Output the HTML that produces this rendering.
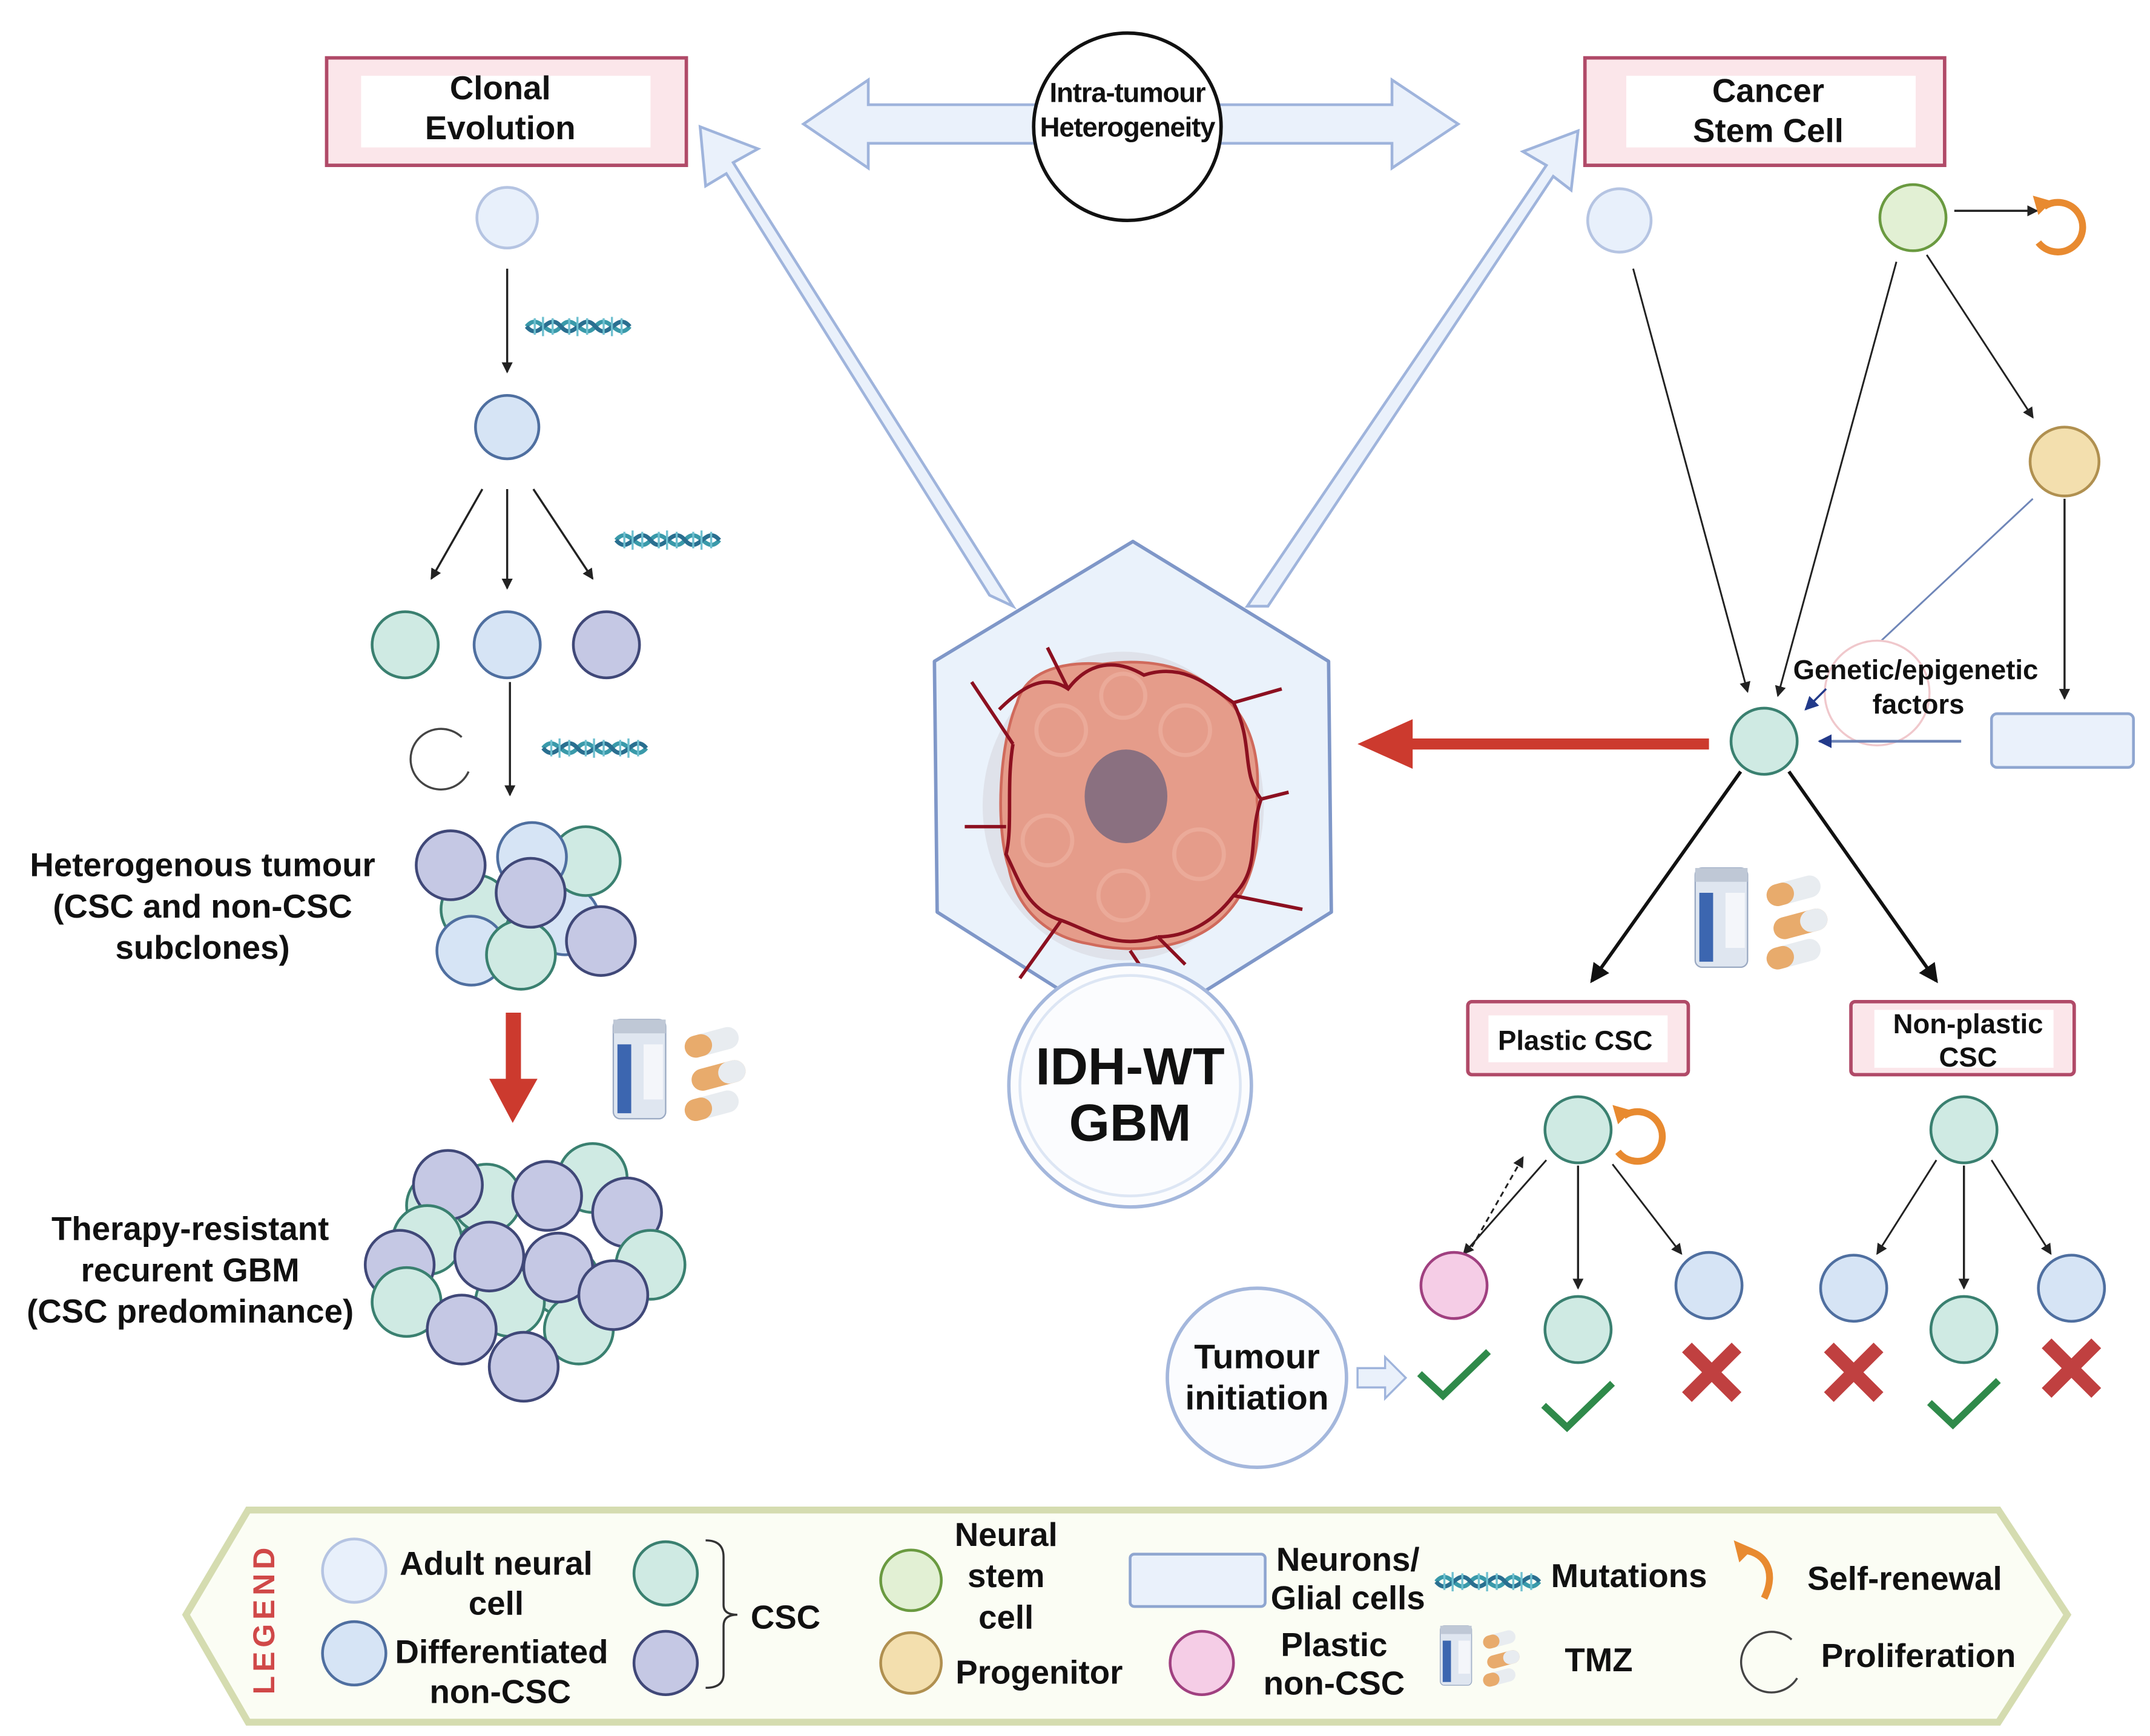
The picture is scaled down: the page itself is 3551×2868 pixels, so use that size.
<!DOCTYPE html>
<html><head><meta charset="utf-8"><style>
html,body{margin:0;padding:0;background:#fff}
svg{display:block}
text{font-family:"Liberation Sans",Arial,sans-serif;font-weight:bold;fill:#111}
</style></head><body>
<svg width="3551" height="2868" viewBox="0 0 1560 1260" preserveAspectRatio="none" xmlns="http://www.w3.org/2000/svg">
<defs>
<marker id="ah" markerWidth="8" markerHeight="8" refX="7" refY="4" orient="auto" markerUnits="userSpaceOnUse"><path d="M0,0 L8,4 L0,8 z" fill="#222"/></marker>
<marker id="ahb" markerWidth="14" markerHeight="14" refX="12" refY="7" orient="auto" markerUnits="userSpaceOnUse"><path d="M0,0 L14,7 L0,14 z" fill="#111"/></marker>
<marker id="ahd" markerWidth="10" markerHeight="10" refX="9" refY="5" orient="auto" markerUnits="userSpaceOnUse"><path d="M0,0 L10,5 L0,10 z" fill="#223a8a"/></marker>
<g id="dna"><path d="M0,0 C10,-12 15,12 25,0 C35,-12 40,12 50,0 C60,-12 65,12 75,0" fill="none" stroke="#3a9aaa" stroke-width="3"/><path d="M0,0 C10,12 15,-12 25,0 C35,12 40,-12 50,0 C60,12 65,-12 75,0" fill="none" stroke="#2a6f90" stroke-width="3"/><path d="M6,-6v12M12,-7v14M19,-6v12M31,-6v12M37,-7v14M44,-6v12M56,-6v12M62,-7v14M69,-6v12" stroke="#6fc0d0" stroke-width="1.5"/></g>
<g id="tmz"><rect x="0" y="0" width="38" height="72" rx="5" fill="#dfe6f0" stroke="#9aa9c2"/><rect x="0" y="0" width="38" height="10" fill="#bfc8d6"/><rect x="3" y="18" width="10" height="50" fill="#3c66b0"/><rect x="22" y="18" width="14" height="40" fill="#f4f6fa"/><g transform="translate(50,14) rotate(-15)"><rect width="40" height="16" rx="8" fill="#e8ecf0"/><rect width="20" height="16" rx="8" fill="#e8ab6c"/></g><g transform="translate(55,38) rotate(-15)"><rect width="40" height="16" rx="8" fill="#e8ab6c"/><rect x="20" width="20" height="16" rx="8" fill="#e8ecf0"/></g><g transform="translate(50,60) rotate(-15)"><rect width="40" height="16" rx="8" fill="#e8ecf0"/><rect width="20" height="16" rx="8" fill="#e8ab6c"/></g></g>
<g id="sr"><path d="M-12,-12 A18,18 0 1 1 -16,14" fill="none" stroke="#e88a30" stroke-width="5"/><path d="M-20,-20 L-6,-16 L-16,-6z" fill="#e88a30"/></g>
<g id="ck"><path d="M-25,0 L-8,16 L25,-16" fill="none" stroke="#2f8a4a" stroke-width="5"/></g>
<g id="xx"><path d="M-18,-18 L18,18 M18,-18 L-18,18" stroke="#c04040" stroke-width="10"/></g>
</defs>

<rect x="237" y="42" width="261" height="78" fill="#fbe6ea" stroke="#b04a68" stroke-width="2.5"/>
<rect x="262" y="55" width="210" height="52" fill="#fff"/>
<text x="363" y="72" font-size="24" text-anchor="middle">Clonal</text>
<text x="363" y="101" font-size="24" text-anchor="middle">Evolution</text>
<rect x="1150" y="42" width="261" height="78" fill="#fbe6ea" stroke="#b04a68" stroke-width="2.5"/>
<rect x="1180" y="55" width="210" height="52" fill="#fff"/>
<text x="1283" y="74" font-size="24" text-anchor="middle">Cancer</text>
<text x="1283" y="103" font-size="24" text-anchor="middle">Stem Cell</text>

<path d="M583,90 L630,58 L630,76 L1010,76 L1010,58 L1058,90 L1010,122 L1010,104 L630,104 L630,122 Z" fill="#eaf1fb" stroke="#9fb4dc" stroke-width="2"/>
<path d="M735,440 L532,118 L550,108 L508,92 L512,135 L527,126 L718,432 Z" fill="#eaf1fb" stroke="#9fb4dc" stroke-width="2"/>
<path d="M905,440 L1122,120 L1105,110 L1145,95 L1140,138 L1127,128 L920,440 Z" fill="#eaf1fb" stroke="#9fb4dc" stroke-width="2"/>
<circle cx="818" cy="92" r="68" fill="#fff" stroke="#111" stroke-width="2.5"/>
<text x="818" y="74" font-size="20" text-anchor="middle" style="letter-spacing:-0.5px">Intra-tumour</text>
<text x="818" y="99" font-size="20" text-anchor="middle" style="letter-spacing:-0.5px">Heterogeneity</text>

<path d="M822,393 L964,480 L966,662 L822,752 L680,662 L678,480 Z" fill="#eaf2fb" stroke="#7f97c8" stroke-width="2.5" stroke-linejoin="round"/>
<ellipse cx="815" cy="585" rx="102" ry="112" fill="#dfe2ea"/>
<path d="M738,510 C745,485 775,480 800,482 C830,478 860,482 880,500 C905,515 915,545 912,580 C916,620 905,650 885,668 C860,690 820,692 790,685 C760,680 738,660 732,630 C722,600 725,540 738,510 Z" fill="#e59c8a" stroke="#d06a5c" stroke-width="2"/>
<g fill="none" stroke="#eeb0a0" stroke-width="3" opacity="0.7">
<circle cx="770" cy="530" r="18"/><circle cx="860" cy="530" r="18"/><circle cx="760" cy="610" r="18"/><circle cx="870" cy="620" r="18"/><circle cx="815" cy="650" r="18"/><circle cx="815" cy="505" r="16"/>
</g>
<g fill="none" stroke="#8c1020" stroke-width="2.5">
<path d="M725,515 C745,495 760,490 775,500 C790,480 810,478 830,490 C860,480 880,500 895,510"/>
<path d="M895,510 C910,540 900,560 915,580 C905,610 915,630 895,650 C880,670 860,680 840,680"/>
<path d="M735,540 C730,570 735,600 730,620 C740,640 745,660 770,668 C790,675 810,690 840,680"/>
<path d="M705,495 L735,540 M895,510 L930,500 M895,650 L945,660 M770,668 L740,710 M820,690 L830,705 M700,600 L730,600 M760,470 L775,500 M915,580 L935,575 M840,680 L860,700"/>
</g>
<ellipse cx="817" cy="578" rx="30" ry="34" fill="#8a7080"/>
<circle cx="820" cy="788" r="88" fill="#fbfcfe" stroke="#a4b7dc" stroke-width="2.5"/>
<circle cx="820" cy="788" r="80" fill="none" stroke="#dde6f4" stroke-width="2"/>
<text x="820" y="787" font-size="38" text-anchor="middle">IDH-WT</text>
<text x="820" y="828" font-size="38" text-anchor="middle">GBM</text>

<rect x="1020" y="536" width="220" height="8" fill="#cc3a2e"/>
<path d="M985,540 L1025,522 L1025,558 Z" fill="#cc3a2e"/>

<circle cx="368" cy="158" r="22" fill="#e8f0fb" stroke="#b5c4e2" stroke-width="2"/>
<line x1="368" y1="195" x2="368" y2="270" stroke="#222" stroke-width="1.5" marker-end="url(#ah)"/>
<use href="#dna" x="382" y="237"/>
<circle cx="368" cy="310" r="23" fill="#d6e4f5" stroke="#4f6fa0" stroke-width="2"/>
<line x1="350" y1="355" x2="313" y2="420" stroke="#222" stroke-width="1.5" marker-end="url(#ah)"/>
<line x1="368" y1="355" x2="368" y2="427" stroke="#222" stroke-width="1.5" marker-end="url(#ah)"/>
<line x1="387" y1="355" x2="430" y2="420" stroke="#222" stroke-width="1.5" marker-end="url(#ah)"/>
<use href="#dna" x="447" y="392"/>
<circle cx="294" cy="468" r="24" fill="#cfeae3" stroke="#3a8070" stroke-width="2"/>
<circle cx="368" cy="468" r="24" fill="#d6e4f5" stroke="#4f6fa0" stroke-width="2"/>
<circle cx="440" cy="468" r="24" fill="#c5c8e4" stroke="#404878" stroke-width="2"/>
<path d="M335,535 A22,22 0 1 0 340,560" fill="none" stroke="#444" stroke-width="1.5"/>
<line x1="370" y1="495" x2="370" y2="577" stroke="#222" stroke-width="1.5" marker-end="url(#ah)"/>
<use href="#dna" x="394" y="543"/>

<g stroke-width="2">
<circle cx="345" cy="660" r="25" fill="#cfeae3" stroke="#3a8070"/>
<circle cx="410" cy="668" r="25" fill="#d6e4f5" stroke="#4f6fa0"/>
<circle cx="342" cy="690" r="25" fill="#d6e4f5" stroke="#4f6fa0"/>
<circle cx="378" cy="693" r="25" fill="#cfeae3" stroke="#3a8070"/>
<circle cx="425" cy="625" r="25" fill="#cfeae3" stroke="#3a8070"/>
<circle cx="386" cy="622" r="25" fill="#d6e4f5" stroke="#4f6fa0"/>
<circle cx="327" cy="628" r="25" fill="#c5c8e4" stroke="#404878"/>
<circle cx="385" cy="648" r="25" fill="#c5c8e4" stroke="#404878"/>
<circle cx="436" cy="683" r="25" fill="#c5c8e4" stroke="#404878"/>
</g>
<text x="147" y="636" font-size="24" text-anchor="middle">Heterogenous tumour</text>
<text x="147" y="666" font-size="24" text-anchor="middle">(CSC and non-CSC</text>
<text x="147" y="696" font-size="24" text-anchor="middle">subclones)</text>

<rect x="367" y="735" width="11" height="50" fill="#cc3a2e"/>
<path d="M355,783 L390,783 L372,815 Z" fill="#cc3a2e"/>
<use href="#tmz" x="445" y="740"/>

<g stroke-width="2">
<circle cx="430" cy="855" r="25" fill="#cfeae3" stroke="#3a8070"/>
<circle cx="320" cy="875" r="25" fill="#cfeae3" stroke="#3a8070"/>
<circle cx="353" cy="870" r="25" fill="#cfeae3" stroke="#3a8070"/>
<circle cx="410" cy="930" r="25" fill="#cfeae3" stroke="#3a8070"/>
<circle cx="370" cy="945" r="25" fill="#cfeae3" stroke="#3a8070"/>
<circle cx="420" cy="965" r="25" fill="#cfeae3" stroke="#3a8070"/>
<circle cx="325" cy="860" r="25" fill="#c5c8e4" stroke="#404878"/>
<circle cx="397" cy="868" r="25" fill="#c5c8e4" stroke="#404878"/>
<circle cx="455" cy="880" r="25" fill="#c5c8e4" stroke="#404878"/>
<circle cx="310" cy="900" r="25" fill="#cfeae3" stroke="#3a8070"/>
<circle cx="355" cy="912" r="25" fill="#c5c8e4" stroke="#404878"/>
<circle cx="405" cy="920" r="25" fill="#c5c8e4" stroke="#404878"/>
<circle cx="290" cy="918" r="25" fill="#c5c8e4" stroke="#404878"/>
<circle cx="472" cy="918" r="25" fill="#cfeae3" stroke="#3a8070"/>
<circle cx="445" cy="940" r="25" fill="#c5c8e4" stroke="#404878"/>
<circle cx="295" cy="945" r="25" fill="#cfeae3" stroke="#3a8070"/>
<circle cx="335" cy="965" r="25" fill="#c5c8e4" stroke="#404878"/>
<circle cx="380" cy="992" r="25" fill="#c5c8e4" stroke="#404878"/>
</g>
<text x="138" y="900" font-size="24" text-anchor="middle">Therapy-resistant</text>
<text x="138" y="930" font-size="24" text-anchor="middle">recurent GBM</text>
<text x="138" y="960" font-size="24" text-anchor="middle">(CSC predominance)</text>

<circle cx="1175" cy="160" r="23" fill="#e8f0fb" stroke="#b5c4e2" stroke-width="2"/>
<circle cx="1388" cy="158" r="24" fill="#e2f0d4" stroke="#6a9a40" stroke-width="2"/>
<line x1="1418" y1="153" x2="1478" y2="153" stroke="#222" stroke-width="1.5" marker-end="url(#ah)"/>
<use href="#sr" x="1495" y="162"/>
<line x1="1185" y1="195" x2="1268" y2="502" stroke="#222" stroke-width="1.3" marker-end="url(#ah)"/>
<line x1="1376" y1="190" x2="1290" y2="505" stroke="#222" stroke-width="1.3" marker-end="url(#ah)"/>
<line x1="1398" y1="185" x2="1475" y2="303" stroke="#222" stroke-width="1.3" marker-end="url(#ah)"/>
<circle cx="1498" cy="335" r="25" fill="#f3dfae" stroke="#b09050" stroke-width="2"/>
<line x1="1498" y1="362" x2="1498" y2="507" stroke="#222" stroke-width="1.5" marker-end="url(#ah)"/>
<line x1="1475" y1="362" x2="1365" y2="465" stroke="#6f86b8" stroke-width="1.3"/>
<circle cx="1362" cy="503" r="38" fill="none" stroke="#f0c8cc" stroke-width="1.5"/>
<text x="1390" y="493" font-size="20" text-anchor="middle">Genetic/epigenetic</text>
<text x="1392" y="518" font-size="20" text-anchor="middle">factors</text>
<rect x="1445" y="518" width="103" height="39" rx="4" fill="#eaf1fb" stroke="#8fa6d0" stroke-width="2"/>
<line x1="1423" y1="538" x2="1320" y2="538" stroke="#6f86b8" stroke-width="2" marker-end="url(#ahd)"/>
<line x1="1325" y1="500" x2="1310" y2="515" stroke="#223a8a" stroke-width="1.5" marker-end="url(#ahd)"/>
<circle cx="1280" cy="538" r="24" fill="#cfeae3" stroke="#3a8070" stroke-width="2"/>
<line x1="1263" y1="560" x2="1155" y2="712" stroke="#111" stroke-width="2.5" marker-end="url(#ahb)"/>
<line x1="1298" y1="560" x2="1405" y2="712" stroke="#111" stroke-width="2.5" marker-end="url(#ahb)"/>
<use href="#tmz" x="1230" y="630"/>

<rect x="1065" y="727" width="160" height="53" rx="3" fill="#fbe6ea" stroke="#b04a68" stroke-width="2.5"/>
<rect x="1080" y="737" width="130" height="34" fill="#fff"/>
<text x="1143" y="762" font-size="20" text-anchor="middle">Plastic CSC</text>
<rect x="1343" y="727" width="162" height="53" rx="3" fill="#fbe6ea" stroke="#b04a68" stroke-width="2.5"/>
<rect x="1360" y="733" width="130" height="42" fill="#fff"/>
<text x="1428" y="750" font-size="20" text-anchor="middle">Non-plastic</text>
<text x="1428" y="774" font-size="20" text-anchor="middle">CSC</text>

<circle cx="1145" cy="820" r="24" fill="#cfeae3" stroke="#3a8070" stroke-width="2"/>
<use href="#sr" x="1190" y="822"/>
<line x1="1122" y1="842" x2="1062" y2="910" stroke="#222" stroke-width="1.3" marker-end="url(#ah)"/>
<line x1="1068" y1="905" x2="1105" y2="840" stroke="#222" stroke-width="1.3" stroke-dasharray="4,3" marker-end="url(#ah)"/>
<line x1="1145" y1="846" x2="1145" y2="935" stroke="#222" stroke-width="1.5" marker-end="url(#ah)"/>
<line x1="1170" y1="845" x2="1220" y2="910" stroke="#222" stroke-width="1.3" marker-end="url(#ah)"/>
<circle cx="1055" cy="933" r="24" fill="#f5cde6" stroke="#a04080" stroke-width="2"/>
<circle cx="1145" cy="965" r="24" fill="#cfeae3" stroke="#3a8070" stroke-width="2"/>
<circle cx="1240" cy="933" r="24" fill="#d6e4f5" stroke="#4f6fa0" stroke-width="2"/>
<use href="#ck" x="1055" y="997"/>
<use href="#ck" x="1145" y="1020"/>
<use href="#xx" x="1242" y="996"/>

<circle cx="1425" cy="820" r="24" fill="#cfeae3" stroke="#3a8070" stroke-width="2"/>
<line x1="1405" y1="842" x2="1362" y2="910" stroke="#222" stroke-width="1.3" marker-end="url(#ah)"/>
<line x1="1425" y1="846" x2="1425" y2="935" stroke="#222" stroke-width="1.5" marker-end="url(#ah)"/>
<line x1="1445" y1="842" x2="1488" y2="910" stroke="#222" stroke-width="1.3" marker-end="url(#ah)"/>
<circle cx="1345" cy="935" r="24" fill="#d6e4f5" stroke="#4f6fa0" stroke-width="2"/>
<circle cx="1425" cy="965" r="24" fill="#cfeae3" stroke="#3a8070" stroke-width="2"/>
<circle cx="1503" cy="935" r="24" fill="#d6e4f5" stroke="#4f6fa0" stroke-width="2"/>
<use href="#xx" x="1345" y="996"/>
<use href="#ck" x="1425" y="1018"/>
<use href="#xx" x="1503" y="993"/>

<circle cx="912" cy="1000" r="65" fill="#fbfcfe" stroke="#a4b7dc" stroke-width="2.5"/>
<text x="912" y="993" font-size="25" text-anchor="middle">Tumour</text>
<text x="912" y="1023" font-size="25" text-anchor="middle">initiation</text>
<path d="M985,993 L1005,993 L1005,985 L1020,1000 L1005,1015 L1005,1007 L985,1007 Z" fill="#eaf1fb" stroke="#9fb4dc" stroke-width="1.5"/>

<path d="M180,1096 L1450,1096 L1500,1172 L1450,1250 L180,1250 L135,1172 Z" fill="#fbfdf4" stroke="#d5dcb0" stroke-width="5"/>
<text x="0" y="0" font-size="22" style="fill:#d04848;letter-spacing:3px" text-anchor="middle" transform="translate(199,1175) rotate(-90)">LEGEND</text>
<circle cx="257" cy="1140" r="23" fill="#e8f0fb" stroke="#b5c4e2" stroke-width="2"/>
<circle cx="257" cy="1200" r="23" fill="#d6e4f5" stroke="#4f6fa0" stroke-width="2"/>
<text x="360" y="1143" font-size="24" text-anchor="middle">Adult neural</text>
<text x="360" y="1172" font-size="24" text-anchor="middle">cell</text>
<text x="364" y="1207" font-size="24" text-anchor="middle">Differentiated</text>
<text x="363" y="1236" font-size="24" text-anchor="middle">non-CSC</text>
<circle cx="483" cy="1142" r="23" fill="#cfeae3" stroke="#3a8070" stroke-width="2"/>
<circle cx="483" cy="1207" r="23" fill="#c5c8e4" stroke="#404878" stroke-width="2"/>
<path d="M512,1118 Q525,1118 525,1130 L525,1165 Q525,1172 535,1172 Q525,1172 525,1180 L525,1215 Q525,1225 512,1225" fill="none" stroke="#333" stroke-width="1.5"/>
<text x="570" y="1182" font-size="24" text-anchor="middle">CSC</text>
<circle cx="661" cy="1147" r="22" fill="#e2f0d4" stroke="#6a9a40" stroke-width="2"/>
<circle cx="661" cy="1207" r="22" fill="#f3dfae" stroke="#b09050" stroke-width="2"/>
<text x="730" y="1122" font-size="24" text-anchor="middle">Neural</text>
<text x="730" y="1152" font-size="24" text-anchor="middle">stem</text>
<text x="730" y="1182" font-size="24" text-anchor="middle">cell</text>
<text x="754" y="1222" font-size="24" text-anchor="middle">Progenitor</text>
<rect x="820" y="1128" width="98" height="38" rx="3" fill="#eaf1fb" stroke="#8fa6d0" stroke-width="2"/>
<text x="978" y="1140" font-size="24" text-anchor="middle">Neurons/</text>
<text x="978" y="1168" font-size="24" text-anchor="middle">Glial cells</text>
<use href="#dna" x="1042" y="1148"/>
<text x="1182" y="1152" font-size="24" text-anchor="middle">Mutations</text>
<circle cx="872" cy="1207" r="23" fill="#f5cde6" stroke="#a04080" stroke-width="2"/>
<text x="968" y="1202" font-size="24" text-anchor="middle">Plastic</text>
<text x="968" y="1230" font-size="24" text-anchor="middle">non-CSC</text>
<g transform="translate(1045,1180) scale(0.6)"><use href="#tmz"/></g>
<text x="1160" y="1213" font-size="24" text-anchor="middle">TMZ</text>
<path d="M1262,1125 C1280,1125 1290,1140 1280,1160" fill="none" stroke="#e88a30" stroke-width="5"/>
<path d="M1258,1118 L1272,1124 L1262,1134Z" fill="#e88a30"/>
<text x="1382" y="1154" font-size="24" text-anchor="middle">Self-renewal</text>
<path d="M1300,1190 A22,22 0 1 0 1304,1218" fill="none" stroke="#444" stroke-width="1.5"/>
<text x="1392" y="1210" font-size="24" text-anchor="middle">Proliferation</text>
</svg>
</body></html>
